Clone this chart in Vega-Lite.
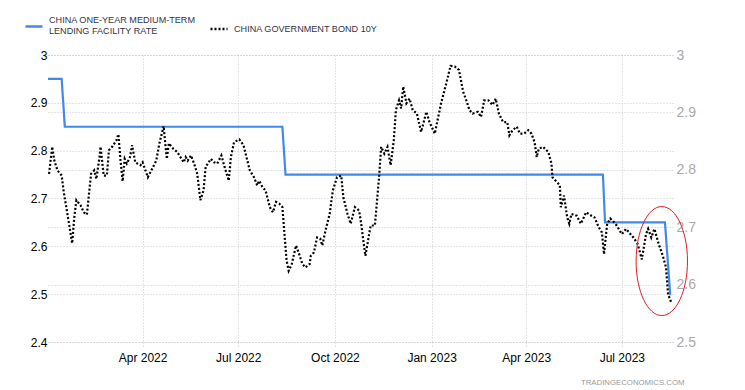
{
  "$schema": "https://vega.github.io/schema/vega-lite/v6.json",
  "width": 625,
  "height": 287,
  "autosize": {"type": "none"},
  "padding": {"left": 48, "top": 55, "right": 72, "bottom": 48},
  "background": "white",
  "config": {
    "view": {"stroke": null},
    "font": "Liberation Sans",
    "legend": {
      "orient": "none",
      "legendX": -24,
      "legendY": -39,
      "direction": "horizontal",
      "padding": 0,
      "symbolType": "stroke",
      "symbolSize": 289,
      "symbolStrokeWidth": 2.5,
      "labelFontSize": 9.1,
      "labelColor": "#333344",
      "labelOffset": 5,
      "columnPadding": 9,
      "labelLimit": 400
    }
  },
  "title": {
    "text": "TRADINGECONOMICS.COM",
    "orient": "bottom",
    "anchor": "end",
    "fontSize": 7.8,
    "fontWeight": "normal",
    "color": "#9a9a9a",
    "offset": 16,
    "dx": -11
  },
  "datasets": {
    "mlf": [
      {"d": "2022-01-01", "v": 2.95},
      {"d": "2022-01-14", "v": 2.95},
      {"d": "2022-01-17", "v": 2.85},
      {"d": "2022-08-12", "v": 2.85},
      {"d": "2022-08-15", "v": 2.75},
      {"d": "2023-06-13", "v": 2.75},
      {"d": "2023-06-15", "v": 2.65},
      {"d": "2023-08-11", "v": 2.65},
      {"d": "2023-08-16", "v": 2.50},
      {"d": "2023-08-17", "v": 2.50}
    ],
    "note": [
      {"d": "2023-08-08", "v": 2.641}
    ],
    "bond": [
      {"d": "2022-01-02", "v": 2.793}, {"d": "2022-01-05", "v": 2.840}, {"d": "2022-01-07", "v": 2.816},
      {"d": "2022-01-10", "v": 2.799}, {"d": "2022-01-14", "v": 2.790}, {"d": "2022-01-16", "v": 2.761},
      {"d": "2022-01-20", "v": 2.717}, {"d": "2022-01-24", "v": 2.672}, {"d": "2022-01-26", "v": 2.717},
      {"d": "2022-01-28", "v": 2.747}, {"d": "2022-02-01", "v": 2.738}, {"d": "2022-02-04", "v": 2.726},
      {"d": "2022-02-07", "v": 2.722}, {"d": "2022-02-09", "v": 2.758}, {"d": "2022-02-11", "v": 2.793},
      {"d": "2022-02-14", "v": 2.799}, {"d": "2022-02-16", "v": 2.784}, {"d": "2022-02-19", "v": 2.822},
      {"d": "2022-02-20", "v": 2.840}, {"d": "2022-02-23", "v": 2.790}, {"d": "2022-02-26", "v": 2.790},
      {"d": "2022-02-28", "v": 2.834}, {"d": "2022-03-03", "v": 2.840}, {"d": "2022-03-07", "v": 2.851},
      {"d": "2022-03-09", "v": 2.862}, {"d": "2022-03-11", "v": 2.816}, {"d": "2022-03-13", "v": 2.780},
      {"d": "2022-03-15", "v": 2.819}, {"d": "2022-03-17", "v": 2.811}, {"d": "2022-03-20", "v": 2.822},
      {"d": "2022-03-22", "v": 2.843}, {"d": "2022-03-25", "v": 2.813}, {"d": "2022-03-30", "v": 2.808},
      {"d": "2022-04-01", "v": 2.813}, {"d": "2022-04-06", "v": 2.787}, {"d": "2022-04-11", "v": 2.805},
      {"d": "2022-04-14", "v": 2.816}, {"d": "2022-04-17", "v": 2.846}, {"d": "2022-04-21", "v": 2.876},
      {"d": "2022-04-24", "v": 2.819}, {"d": "2022-04-26", "v": 2.846}, {"d": "2022-04-30", "v": 2.837},
      {"d": "2022-05-04", "v": 2.831}, {"d": "2022-05-08", "v": 2.819}, {"d": "2022-05-10", "v": 2.813},
      {"d": "2022-05-12", "v": 2.822}, {"d": "2022-05-14", "v": 2.816}, {"d": "2022-05-17", "v": 2.825},
      {"d": "2022-05-20", "v": 2.811}, {"d": "2022-05-23", "v": 2.793}, {"d": "2022-05-26", "v": 2.747},
      {"d": "2022-05-29", "v": 2.764}, {"d": "2022-05-31", "v": 2.805}, {"d": "2022-06-05", "v": 2.819},
      {"d": "2022-06-08", "v": 2.813}, {"d": "2022-06-11", "v": 2.811}, {"d": "2022-06-15", "v": 2.825},
      {"d": "2022-06-18", "v": 2.805}, {"d": "2022-06-22", "v": 2.781}, {"d": "2022-06-24", "v": 2.822},
      {"d": "2022-06-27", "v": 2.848}, {"d": "2022-07-02", "v": 2.853}, {"d": "2022-07-06", "v": 2.843},
      {"d": "2022-07-12", "v": 2.799}, {"d": "2022-07-16", "v": 2.787}, {"d": "2022-07-19", "v": 2.773},
      {"d": "2022-07-21", "v": 2.781}, {"d": "2022-07-24", "v": 2.770}, {"d": "2022-07-27", "v": 2.764},
      {"d": "2022-07-31", "v": 2.735}, {"d": "2022-08-03", "v": 2.726}, {"d": "2022-08-06", "v": 2.744},
      {"d": "2022-08-09", "v": 2.741}, {"d": "2022-08-12", "v": 2.735}, {"d": "2022-08-14", "v": 2.688},
      {"d": "2022-08-16", "v": 2.642}, {"d": "2022-08-18", "v": 2.624}, {"d": "2022-08-21", "v": 2.636},
      {"d": "2022-08-25", "v": 2.668}, {"d": "2022-08-28", "v": 2.653}, {"d": "2022-08-31", "v": 2.636},
      {"d": "2022-09-03", "v": 2.630}, {"d": "2022-09-07", "v": 2.636}, {"d": "2022-09-08", "v": 2.650},
      {"d": "2022-09-11", "v": 2.656}, {"d": "2022-09-14", "v": 2.682}, {"d": "2022-09-17", "v": 2.680},
      {"d": "2022-09-19", "v": 2.668}, {"d": "2022-09-22", "v": 2.694}, {"d": "2022-09-26", "v": 2.723},
      {"d": "2022-09-29", "v": 2.764}, {"d": "2022-10-03", "v": 2.787}, {"d": "2022-10-07", "v": 2.790},
      {"d": "2022-10-09", "v": 2.752}, {"d": "2022-10-13", "v": 2.723}, {"d": "2022-10-16", "v": 2.706},
      {"d": "2022-10-20", "v": 2.735}, {"d": "2022-10-24", "v": 2.729}, {"d": "2022-10-26", "v": 2.706},
      {"d": "2022-10-28", "v": 2.677}, {"d": "2022-10-30", "v": 2.650}, {"d": "2022-11-02", "v": 2.682},
      {"d": "2022-11-04", "v": 2.703}, {"d": "2022-11-08", "v": 2.703}, {"d": "2022-11-12", "v": 2.787},
      {"d": "2022-11-14", "v": 2.840}, {"d": "2022-11-17", "v": 2.828}, {"d": "2022-11-20", "v": 2.840},
      {"d": "2022-11-23", "v": 2.808}, {"d": "2022-11-26", "v": 2.851}, {"d": "2022-11-28", "v": 2.904},
      {"d": "2022-12-01", "v": 2.921}, {"d": "2022-12-03", "v": 2.907}, {"d": "2022-12-05", "v": 2.945},
      {"d": "2022-12-08", "v": 2.916}, {"d": "2022-12-11", "v": 2.924}, {"d": "2022-12-14", "v": 2.904},
      {"d": "2022-12-18", "v": 2.898}, {"d": "2022-12-22", "v": 2.866}, {"d": "2022-12-27", "v": 2.901},
      {"d": "2022-12-30", "v": 2.883}, {"d": "2023-01-04", "v": 2.863}, {"d": "2023-01-10", "v": 2.916},
      {"d": "2023-01-15", "v": 2.951}, {"d": "2023-01-19", "v": 2.981}, {"d": "2023-01-23", "v": 2.980},
      {"d": "2023-01-27", "v": 2.974}, {"d": "2023-01-31", "v": 2.936}, {"d": "2023-02-03", "v": 2.921},
      {"d": "2023-02-06", "v": 2.904}, {"d": "2023-02-09", "v": 2.898}, {"d": "2023-02-14", "v": 2.901},
      {"d": "2023-02-17", "v": 2.892}, {"d": "2023-02-20", "v": 2.921}, {"d": "2023-02-24", "v": 2.921},
      {"d": "2023-02-28", "v": 2.913}, {"d": "2023-03-03", "v": 2.924}, {"d": "2023-03-06", "v": 2.898},
      {"d": "2023-03-10", "v": 2.883}, {"d": "2023-03-14", "v": 2.883}, {"d": "2023-03-16", "v": 2.860},
      {"d": "2023-03-19", "v": 2.869}, {"d": "2023-03-23", "v": 2.875}, {"d": "2023-03-26", "v": 2.863},
      {"d": "2023-03-30", "v": 2.863}, {"d": "2023-04-03", "v": 2.869}, {"d": "2023-04-06", "v": 2.863},
      {"d": "2023-04-09", "v": 2.848}, {"d": "2023-04-11", "v": 2.822}, {"d": "2023-04-13", "v": 2.837},
      {"d": "2023-04-17", "v": 2.840}, {"d": "2023-04-22", "v": 2.831}, {"d": "2023-04-25", "v": 2.811},
      {"d": "2023-04-26", "v": 2.787}, {"d": "2023-05-03", "v": 2.773}, {"d": "2023-05-04", "v": 2.735},
      {"d": "2023-05-07", "v": 2.755}, {"d": "2023-05-10", "v": 2.717}, {"d": "2023-05-12", "v": 2.706},
      {"d": "2023-05-14", "v": 2.723}, {"d": "2023-05-19", "v": 2.720}, {"d": "2023-05-23", "v": 2.706},
      {"d": "2023-05-28", "v": 2.726}, {"d": "2023-06-02", "v": 2.720}, {"d": "2023-06-05", "v": 2.717},
      {"d": "2023-06-09", "v": 2.700}, {"d": "2023-06-12", "v": 2.691}, {"d": "2023-06-14", "v": 2.653},
      {"d": "2023-06-17", "v": 2.706}, {"d": "2023-06-20", "v": 2.715}, {"d": "2023-06-25", "v": 2.706},
      {"d": "2023-07-01", "v": 2.688}, {"d": "2023-07-05", "v": 2.697}, {"d": "2023-07-12", "v": 2.682},
      {"d": "2023-07-16", "v": 2.671}, {"d": "2023-07-20", "v": 2.644}, {"d": "2023-07-24", "v": 2.688},
      {"d": "2023-07-26", "v": 2.697}, {"d": "2023-07-29", "v": 2.682}, {"d": "2023-08-01", "v": 2.697},
      {"d": "2023-08-05", "v": 2.671}, {"d": "2023-08-09", "v": 2.650}, {"d": "2023-08-12", "v": 2.630},
      {"d": "2023-08-14", "v": 2.583}, {"d": "2023-08-17", "v": 2.569}
    ]
  },
  "encoding": {
    "x": {
      "field": "d",
      "type": "temporal",
      "scale": {
        "type": "utc",
        "domain": [
          {"year": 2022, "month": 1, "date": 1, "utc": true},
          {"year": 2023, "month": 8, "date": 18, "hours": 16, "utc": true}
        ]
      },
      "axis": {
        "title": null,
        "values": [
          {"year": 2022, "month": 4, "date": 1, "utc": true},
          {"year": 2022, "month": 7, "date": 1, "utc": true},
          {"year": 2022, "month": 10, "date": 1, "utc": true},
          {"year": 2023, "month": 1, "date": 1, "utc": true},
          {"year": 2023, "month": 4, "date": 1, "utc": true},
          {"year": 2023, "month": 7, "date": 1, "utc": true}
        ],
        "labelExpr": "utcFormat(datum.value, '%b %Y')",
        "domain": false,
        "grid": true,
        "gridColor": "#c8c8c8",
        "gridDash": [1, 2],
        "ticks": true,
        "tickColor": "#c8c8c8",
        "tickDash": [1, 2],
        "tickSize": 6,
        "labelPadding": 4,
        "labelFontSize": 12,
        "labelColor": "#000000",
        "labelFlush": false
      }
    }
  },
  "layer": [
    {
      "data": {"name": "mlf"},
      "mark": {"type": "line", "strokeWidth": 2.2},
      "encoding": {
        "y": {
          "field": "v",
          "type": "quantitative",
          "scale": {"domain": [2.4, 3.0], "nice": false, "zero": false},
          "axis": {
            "orient": "left",
            "title": null,
            "values": [2.4, 2.5, 2.6, 2.7, 2.8, 2.9, 3.0],
            "format": "~g",
            "domain": false,
            "ticks": false,
            "grid": true,
            "gridColor": "#c8c8c8",
            "gridDash": [1, 2],
            "labelPadding": 1,
            "labelFontSize": 12,
            "labelColor": "#000000"
          }
        },
        "color": {
          "datum": "CHINA ONE-YEAR MEDIUM-TERM LENDING FACILITY RATE",
          "type": "nominal",
          "scale": {
            "domain": ["CHINA ONE-YEAR MEDIUM-TERM LENDING FACILITY RATE", "CHINA GOVERNMENT BOND 10Y"],
            "range": ["#4189e8", "#000000"]
          },
          "legend": {
            "title": null,
            "labelExpr": "datum.label == 'CHINA ONE-YEAR MEDIUM-TERM LENDING FACILITY RATE' ? ['CHINA ONE-YEAR MEDIUM-TERM', 'LENDING FACILITY RATE'] : datum.label",
            "encode": {
              "labels": {
                "update": {
                  "dy": [
                    {"test": "datum.value == 'CHINA ONE-YEAR MEDIUM-TERM LENDING FACILITY RATE'", "value": -6},
                    {"value": 0}
                  ]
                }
              }
            }
          }
        },
        "strokeDash": {
          "datum": "CHINA ONE-YEAR MEDIUM-TERM LENDING FACILITY RATE",
          "type": "nominal",
          "scale": {
            "domain": ["CHINA ONE-YEAR MEDIUM-TERM LENDING FACILITY RATE", "CHINA GOVERNMENT BOND 10Y"],
            "range": [[1, 0], [2, 2]]
          },
          "legend": {
            "title": null,
            "labelExpr": "datum.label == 'CHINA ONE-YEAR MEDIUM-TERM LENDING FACILITY RATE' ? ['CHINA ONE-YEAR MEDIUM-TERM', 'LENDING FACILITY RATE'] : datum.label",
            "encode": {
              "labels": {
                "update": {
                  "dy": [
                    {"test": "datum.value == 'CHINA ONE-YEAR MEDIUM-TERM LENDING FACILITY RATE'", "value": -6},
                    {"value": 0}
                  ]
                }
              }
            }
          }
        }
      }
    },
    {
      "encoding": {
        "y": {
          "field": "v",
          "type": "quantitative",
          "scale": {"domain": [2.5, 3.0], "nice": false, "zero": false},
          "axis": {
            "orient": "right",
            "title": null,
            "values": [2.5, 2.6, 2.7, 2.8, 2.9, 3.0],
            "format": "~g",
            "domain": false,
            "ticks": false,
            "grid": true,
            "gridColor": "#c8c8c8",
            "gridDash": [1, 2],
            "labelPadding": 3,
            "labelFontSize": 14,
            "labelColor": "#a8a8b0"
          }
        }
      },
      "layer": [
        {
          "data": {"name": "bond"},
          "mark": {"type": "line", "strokeWidth": 2.2},
          "encoding": {
            "color": {"datum": "CHINA GOVERNMENT BOND 10Y", "type": "nominal"},
            "strokeDash": {"datum": "CHINA GOVERNMENT BOND 10Y", "type": "nominal"}
          }
        },
        {
          "data": {"name": "note"},
          "mark": {
            "type": "point",
            "shape": "M -0.4716 0 A 0.4716 1 0 1 1 0.4716 0 A 0.4716 1 0 1 1 -0.4716 0 Z",
            "size": 11881,
            "filled": false,
            "stroke": "#e31b23",
            "strokeWidth": 1,
            "opacity": 1
          },
          "encoding": {}
        }
      ]
    }
  ],
  "resolve": {"scale": {"y": "independent"}}
}
